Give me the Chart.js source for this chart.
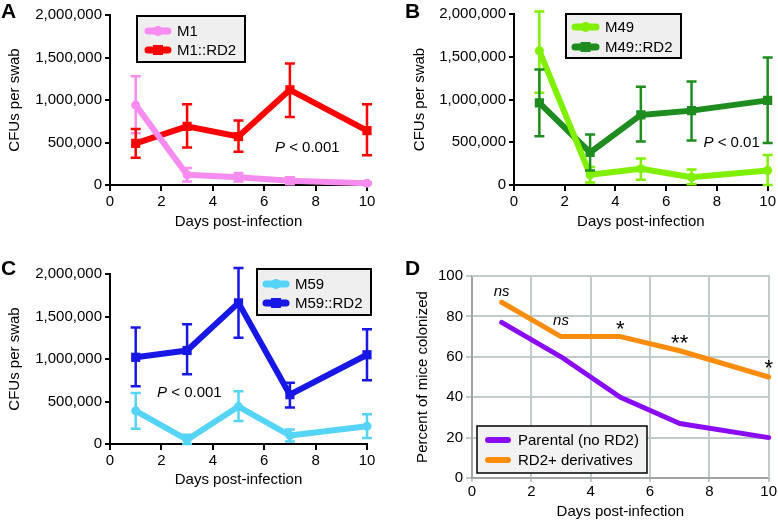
<!DOCTYPE html>
<html>
<head>
<meta charset="utf-8">
<script src="https://cdn.jsdelivr.net/npm/chart.js@4.4.1/dist/chart.umd.min.js"></script>
<style>
  body { margin: 0; background: #fff; }
  #wrap { position: relative; width: 778px; height: 521px; }
  canvas { position: absolute; }
</style>
</head>
<body>
<div id="wrap">
  <canvas id="chartA" width="389" height="260" style="left:0;top:0;width:389px;height:260px"></canvas>
  <canvas id="chartB" width="389" height="260" style="left:389px;top:0;width:389px;height:260px"></canvas>
  <canvas id="chartC" width="389" height="261" style="left:0;top:260px;width:389px;height:261px"></canvas>
  <canvas id="chartD" width="389" height="261" style="left:389px;top:260px;width:389px;height:261px"></canvas>
</div>
<script>
// days sampled
const days = [1, 3, 5, 7, 10];
const xTicks = [0, 2, 4, 6, 8, 10];
const cfuTicks = [0, 500000, 1000000, 1500000, 2000000];
const pctTicks = [0, 10, 20, 30, 40, 50, 60, 70, 80, 90, 100];

// panel A
const m1 = [940000, 120000, 90000, 50000, 20000];
const m1Hi = [1280000, 200000, 140000, 90000, 30000];
const m1Lo = [610000, 40000, 40000, 10000, 10000];
const m1rd2 = [490000, 690000, 570000, 1120000, 640000];
const m1rd2Hi = [660000, 950000, 760000, 1430000, 950000];
const m1rd2Lo = [320000, 440000, 390000, 800000, 350000];

// panel B
const m49 = [1570000, 120000, 190000, 90000, 170000];
const m49Hi = [2030000, 210000, 310000, 180000, 350000];
const m49Lo = [1080000, 30000, 60000, 10000, 0];
const m49rd2 = [960000, 380000, 820000, 870000, 990000];
const m49rd2Hi = [1350000, 590000, 1150000, 1210000, 1490000];
const m49rd2Lo = [570000, 170000, 510000, 520000, 490000];

// panel C
const m59 = [390000, 50000, 440000, 100000, 210000];
const m59Hi = [600000, 110000, 620000, 170000, 350000];
const m59Lo = [180000, 0, 270000, 30000, 70000];
const m59rd2 = [1020000, 1100000, 1660000, 580000, 1050000];
const m59rd2Hi = [1370000, 1410000, 2070000, 720000, 1350000];
const m59rd2Lo = [680000, 820000, 1250000, 430000, 750000];

// panel D
const parental = [77, 60, 40, 27, 20];
const rd2Plus = [87, 70, 70, 63, 50];
const sigLabels = ['ns', 'ns', '*', '**', '*'];
const sigHeights = [90, 75.5, 70.5, 63.5, 51];

const FAMILY = '"Liberation Sans", Arial, sans-serif';
const font15 = { family: FAMILY, size: 15 };

function pts(ys) {
    return days.map((d, i) => ({ x: d, y: ys[i] }));
}

// vertical error bars with caps
const errorBars = {
    id: 'errorBars',
    afterDatasetsDraw(chart) {
        const ctx = chart.ctx;
        const x = chart.scales.x;
        const y = chart.scales.y;
        chart.data.datasets.forEach(ds => {
            if (!ds.hi) return;
            ctx.save();
            ctx.strokeStyle = ds.borderColor;
            ctx.lineWidth = 2.5;
            ds.data.forEach((p, i) => {
                const px = x.getPixelForValue(p.x);
                const top = y.getPixelForValue(ds.hi[i]);
                const bot = y.getPixelForValue(ds.lo[i]);
                ctx.beginPath();
                ctx.moveTo(px, top); ctx.lineTo(px, bot);
                ctx.moveTo(px - 5, top); ctx.lineTo(px + 5, top);
                ctx.moveTo(px - 5, bot); ctx.lineTo(px + 5, bot);
                ctx.stroke();
            });
            ctx.restore();
        });
    }
};

// boxed legend at a fixed spot
const boxLegend = {
    id: 'boxLegend',
    afterDraw(chart, args, opts) {
        if (!opts.box) return;
        const ctx = chart.ctx;
        const [x1, y1, x2, y2] = opts.box;
        ctx.save();
        ctx.fillStyle = opts.fill;
        ctx.fillRect(x1, y1, x2 - x1, y2 - y1);
        ctx.strokeStyle = '#000';
        ctx.lineWidth = opts.borderWidth;
        ctx.strokeRect(x1, y1, x2 - x1, y2 - y1);
        chart.data.datasets.forEach((ds, i) => {
            const yy = opts.rows[i];
            ctx.strokeStyle = ds.borderColor;
            ctx.lineWidth = ds.borderWidth + 1;
            ctx.lineCap = 'round';
            ctx.beginPath();
            ctx.moveTo(opts.line[0], yy);
            ctx.lineTo(opts.line[1], yy);
            ctx.stroke();
            const mx = (opts.line[0] + opts.line[1]) / 2;
            ctx.fillStyle = ds.borderColor;
            if (ds.pointStyle === 'rect') {
                ctx.fillRect(mx - 5, yy - 5, 10, 10);
            } else if (ds.pointRadius) {
                ctx.beginPath();
                ctx.arc(mx, yy, 5, 0, Math.PI * 2);
                ctx.fill();
            }
            ctx.fillStyle = '#000';
            ctx.font = '15px ' + FAMILY;
            ctx.textBaseline = 'middle';
            ctx.textAlign = 'left';
            ctx.fillText(ds.label, opts.textX, yy + 1);
        });
        ctx.restore();
    }
};

// panel letter and free text
const notes = {
    id: 'notes',
    afterDraw(chart, args, opts) {
        const ctx = chart.ctx;
        ctx.save();
        ctx.fillStyle = '#000';
        ctx.textBaseline = 'alphabetic';
        if (opts.letter) {
            ctx.font = 'bold 21px ' + FAMILY;
            ctx.textAlign = 'left';
            ctx.fillText(opts.letter, opts.letterPos[0], opts.letterPos[1]);
        }
        (opts.items || []).forEach(it => {
            let px = chart.scales.x.getPixelForValue(it.x);
            const py = chart.scales.y.getPixelForValue(it.y);
            const widths = it.parts.map(p => {
                ctx.font = (p.italic ? 'italic ' : '') + p.size + 'px ' + FAMILY;
                return ctx.measureText(p.t).width;
            });
            if (it.align === 'center') px -= widths.reduce((a, b) => a + b, 0) / 2;
            ctx.textAlign = 'left';
            it.parts.forEach((p, i) => {
                ctx.font = (p.italic ? 'italic ' : '') + p.size + 'px ' + FAMILY;
                ctx.fillText(p.t, px, py);
                px += widths[i];
            });
        });
        ctx.restore();
    }
};

// top and right edge of the panel D box
const frame = {
    id: 'frame',
    beforeDatasetsDraw(chart, args, opts) {
        if (!opts.color) return;
        const { ctx, chartArea: a } = chart;
        ctx.save();
        ctx.strokeStyle = opts.color;
        ctx.lineWidth = 2;
        ctx.beginPath();
        ctx.moveTo(Math.round(a.left), Math.round(a.top));
        ctx.lineTo(Math.round(a.right), Math.round(a.top));
        ctx.lineTo(Math.round(a.right), Math.round(a.bottom));
        ctx.stroke();
        ctx.restore();
    }
};

function cfuDataset(label, ys, hi, lo, color, style) {
    return {
        label: label,
        data: pts(ys),
        hi: hi,
        lo: lo,
        borderColor: color,
        backgroundColor: color,
        borderWidth: 6,
        borderCapStyle: 'round',
        borderJoinStyle: 'round',
        pointStyle: style,
        pointRadius: style === 'rect' ? 6.5 : 4.5,
        pointBorderWidth: 0,
        tension: 0,
        clip: 12
    };
}

function cfuOptions(p) {
    return {
        responsive: false,
        animation: false,
        layout: { padding: { left: 0, right: p.right, top: p.top, bottom: 0 } },
        plugins: {
            legend: { display: false },
            tooltip: { enabled: false },
            boxLegend: p.legend,
            notes: p.notes
        },
        scales: {
            x: {
                type: 'linear', min: 0, max: 10,
                afterBuildTicks: s => { s.ticks = xTicks.map(v => ({ value: v })); },
                afterFit: s => { s.height = p.xHeight; },
                grid: { drawOnChartArea: false, color: '#000', lineWidth: 2, tickLength: 6 },
                border: { color: '#000', width: 2 },
                ticks: { color: '#000', font: font15, padding: 2, maxRotation: 0 },
                title: { display: true, text: 'Days post-infection', color: '#000', font: font15,
                         padding: { top: 0, bottom: p.xTitlePad } }
            },
            y: {
                type: 'linear', min: 0, max: 2000000,
                afterBuildTicks: s => { s.ticks = cfuTicks.map(v => ({ value: v })); },
                afterFit: s => { s.width = p.left; },
                grid: { drawOnChartArea: false, color: '#000', lineWidth: 2, tickLength: 5 },
                border: { color: '#000', width: 2 },
                ticks: { color: '#000', font: font15, padding: 3,
                         callback: v => v.toLocaleString('en-US') },
                title: { display: true, text: 'CFUs per swab', color: '#000', font: font15,
                         padding: { top: p.yTitlePad, bottom: 0 } }
            }
        }
    };
}

const plugins = [errorBars, boxLegend, notes, frame];

new Chart(document.getElementById('chartA'), {
    type: 'line',
    data: { datasets: [
        cfuDataset('M1', m1, m1Hi, m1Lo, '#f78cf0', 'circle'),
        cfuDataset('M1::RD2', m1rd2, m1rd2Hi, m1rd2Lo, '#ff0000', 'rect')
    ] },
    options: cfuOptions({
        left: 110, right: 22, top: 15, xHeight: 75, xTitlePad: 29, yTitlePad: 6,
        legend: { box: [137, 16, 245, 62], rows: [31, 50], line: [148, 168], textX: 177,
                  fill: '#efefef', borderWidth: 2 },
        notes: { letter: 'A', letterPos: [1, 18],
                 items: [{ x: 6.42, y: 390000, align: 'left',
                           parts: [{ t: 'P', italic: true, size: 15 }, { t: ' < 0.001', size: 15 }] }] }
    }),
    plugins: plugins
});

new Chart(document.getElementById('chartB'), {
    type: 'line',
    data: { datasets: [
        cfuDataset('M49', m49, m49Hi, m49Lo, '#80f000', 'circle'),
        cfuDataset('M49::RD2', m49rd2, m49rd2Hi, m49rd2Lo, '#1e8c1e', 'rect')
    ] },
    options: cfuOptions({
        left: 125, right: 7, top: 14, xHeight: 75, xTitlePad: 29, yTitlePad: 22,
        legend: { box: [177, 14, 292, 58], rows: [27, 47], line: [186, 207], textX: 216,
                  fill: '#efefef', borderWidth: 2 },
        notes: { letter: 'B', letterPos: [16, 18],
                 items: [{ x: 7.47, y: 445000, align: 'left',
                           parts: [{ t: 'P', italic: true, size: 15 }, { t: ' < 0.01', size: 15 }] }] }
    }),
    plugins: plugins
});

new Chart(document.getElementById('chartC'), {
    type: 'line',
    data: { datasets: [
        cfuDataset('M59', m59, m59Hi, m59Lo, '#55d4f7', 'circle'),
        cfuDataset('M59::RD2', m59rd2, m59rd2Hi, m59rd2Lo, '#1717e6', 'rect')
    ] },
    options: cfuOptions({
        left: 110, right: 22, top: 14, xHeight: 77, xTitlePad: 32, yTitlePad: 6,
        legend: { box: [257, 9, 371, 55], rows: [24, 43], line: [266, 286], textX: 295,
                  fill: '#efefef', borderWidth: 2 },
        notes: { letter: 'C', letterPos: [1, 15],
                 items: [{ x: 1.83, y: 555000, align: 'left',
                           parts: [{ t: 'P', italic: true, size: 15 }, { t: ' < 0.001', size: 15 }] }] }
    }),
    plugins: plugins
});

function lineDataset(label, ys, color) {
    return {
        label: label,
        data: pts(ys),
        borderColor: color,
        backgroundColor: color,
        borderWidth: 5,
        borderCapStyle: 'round',
        borderJoinStyle: 'round',
        pointRadius: 0,
        tension: 0,
        clip: 8
    };
}

new Chart(document.getElementById('chartD'), {
    type: 'line',
    data: { datasets: [
        lineDataset('Parental (no RD2)', parental, '#8a0cf5'),
        lineDataset('RD2+ derivatives', rd2Plus, '#fb8c0c')
    ] },
    options: {
        responsive: false,
        animation: false,
        layout: { padding: { left: 0, right: 9, top: 16, bottom: 0 } },
        plugins: {
            legend: { display: false },
            tooltip: { enabled: false },
            boxLegend: { box: [88, 166, 258, 213], rows: [180, 200], line: [99, 119], textX: 129,
                         fill: '#f2f2f2', borderWidth: 1.5 },
            notes: {
                letter: 'D', letterPos: [16, 15],
                items: days.map((d, i) => ({
                    x: d, y: sigHeights[i], align: 'center',
                    parts: [sigLabels[i] === 'ns'
                        ? { t: 'ns', italic: true, size: 15 }
                        : { t: sigLabels[i], size: 22 }]
                }))
            },
            frame: { color: '#c2cbcb' }
        },
        scales: {
            x: {
                type: 'linear', min: 0, max: 10,
                afterBuildTicks: s => { s.ticks = xTicks.map(v => ({ value: v })); },
                afterFit: s => { s.height = 43; },
                grid: { color: '#c2cbcb', lineWidth: 2, tickLength: 4 },
                border: { color: '#a3a3a3', width: 2 },
                ticks: { color: '#000', font: font15, padding: 1, maxRotation: 0 },
                title: { display: true, text: 'Days post-infection', color: '#000', font: font15,
                         padding: { top: 0, bottom: 0 } }
            },
            y: {
                type: 'linear', min: 0, max: 100,
                afterBuildTicks: s => { s.ticks = pctTicks.map(v => ({ value: v })); },
                afterFit: s => { s.width = 83; },
                grid: { color: '#c2cbcb', lineWidth: 2, tickLength: 6 },
                border: { color: '#a3a3a3', width: 2 },
                ticks: { color: '#000', font: font15, padding: 3,
                         callback: v => (v % 20 === 0 ? String(v) : '') },
                title: { display: true, text: 'Percent of mice colonized', color: '#000', font: font15,
                         padding: { top: 25, bottom: 0 } }
            }
        }
    },
    plugins: plugins
});
</script>
</body>
</html>
